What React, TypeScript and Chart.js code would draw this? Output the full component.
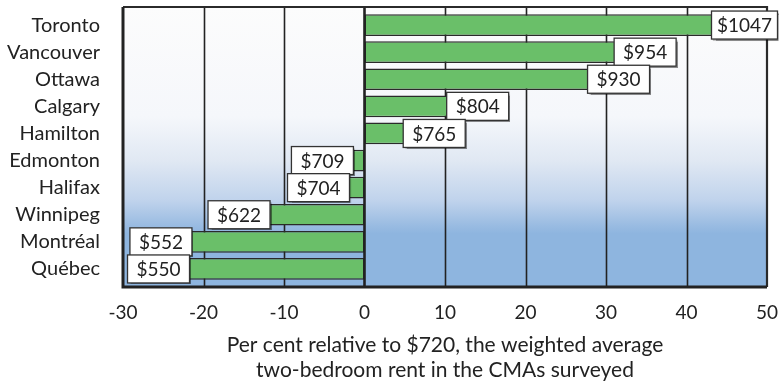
import React, { useEffect, useRef } from "react";
import { Chart, registerables } from "chart.js";

Chart.register(...registerables);

// Census metropolitan areas, top to bottom
const cities = [
  "Toronto",
  "Vancouver",
  "Ottawa",
  "Calgary",
  "Hamilton",
  "Edmonton",
  "Halifax",
  "Winnipeg",
  "Montréal",
  "Québec",
];

// Average two-bedroom rent ($)
const rents = [1047, 954, 930, 804, 765, 709, 704, 622, 552, 550];

// Per cent above/below the $720 weighted average
const pctDiff = [45.4, 32.5, 29.2, 11.7, 6.3, -1.5, -2.2, -13.6, -23.3, -23.6];

// Horizontal axis range and step
const xMin = -30;
const xMax = 50;
const xStep = 10;

const axisTitle = [
  "Per cent relative to $720, the weighted average",
  "two-bedroom rent in the CMAs surveyed",
];

const FONT = "Lato, 'Open Sans', sans-serif";
const INK = "#222222";
const FRAME_TOP_EXTRA = 4.5;
const FRAME_BOTTOM_EXTRA = 4.5;

const framePlugin = {
  id: "rentFrame",
  beforeDatasetsDraw(chart: any) {
    const { ctx, chartArea, scales } = chart;
    const top = chartArea.top - FRAME_TOP_EXTRA;
    const bottom = chartArea.bottom + FRAME_BOTTOM_EXTRA;
    const { left, right } = chartArea;
    ctx.save();
    const g = ctx.createLinearGradient(0, top, 0, bottom);
    g.addColorStop(0, "#fcfcfc");
    g.addColorStop(0.39, "#f5f7fb");
    g.addColorStop(0.55, "#e0e8f3");
    g.addColorStop(0.69, "#c0d3ec");
    g.addColorStop(0.786, "#97bae1");
    g.addColorStop(0.81, "#8eb5df");
    g.addColorStop(1, "#8eb5df");
    ctx.fillStyle = g;
    ctx.fillRect(left, top, right - left, bottom - top);

    // vertical grid lines at each tick
    const x = scales.x;
    ctx.strokeStyle = INK;
    for (const t of x.ticks) {
      if (t.value === xMin || t.value === xMax || t.value === 0) continue;
      const px = Math.round(x.getPixelForValue(t.value)) + 0.5;
      ctx.lineWidth = 1.6;
      ctx.beginPath();
      ctx.moveTo(px, top);
      ctx.lineTo(px, bottom);
      ctx.stroke();
    }
    ctx.restore();
  },
  afterDatasetsDraw(chart: any) {
    const { ctx, chartArea, scales } = chart;
    const top = chartArea.top - FRAME_TOP_EXTRA;
    const bottom = chartArea.bottom + FRAME_BOTTOM_EXTRA;
    const { left, right } = chartArea;
    const x = scales.x;
    const y = scales.y;
    ctx.save();

    // zero line
    const zx = x.getPixelForValue(0);
    ctx.strokeStyle = INK;
    ctx.lineWidth = 2.6;
    ctx.beginPath();
    ctx.moveTo(zx, top);
    ctx.lineTo(zx, bottom);
    ctx.stroke();

    // outer frame
    ctx.lineWidth = 2.2;
    ctx.strokeStyle = "#2a2a2a";
    ctx.beginPath();
    ctx.moveTo(left, top);
    ctx.lineTo(right, top);
    ctx.lineTo(right, bottom);
    ctx.stroke();
    ctx.lineWidth = 3;
    ctx.strokeStyle = INK;
    ctx.beginPath();
    ctx.moveTo(right, bottom);
    ctx.lineTo(left, bottom);
    ctx.lineTo(left, top);
    ctx.stroke();

    // rent callouts at the end of each bar
    const boxH = 28;
    ctx.font = `19px ${FONT}`;
    ctx.textAlign = "center";
    ctx.textBaseline = "middle";
    pctDiff.forEach((v, i) => {
      const text = `$${rents[i]}`;
      const boxW = Math.max(62, Math.ceil(ctx.measureText(text).width) + 10);
      const end = x.getPixelForValue(v);
      const len = Math.abs(end - zx);
      const cy = y.getPixelForValue(i);
      let bx: number;
      if (v >= 0) {
        const overlap = Math.max(1, Math.min(12, len - 15));
        bx = Math.min(end - overlap, chart.width - boxW - 1.5);
      } else {
        const overlap = Math.max(1, Math.min(15, len - 15));
        bx = end + overlap - boxW;
      }
      const by = cy - boxH / 2;
      ctx.save();
      ctx.shadowColor = "rgba(0,0,0,0.45)";
      ctx.shadowOffsetX = 1.5;
      ctx.shadowOffsetY = 1.5;
      ctx.shadowBlur = 1;
      ctx.fillStyle = "#ffffff";
      ctx.fillRect(bx, by, boxW, boxH);
      ctx.restore();
      ctx.lineWidth = 1.3;
      ctx.strokeStyle = "#333333";
      ctx.strokeRect(bx, by, boxW, boxH);
      ctx.fillStyle = INK;
      ctx.fillText(text, bx + boxW / 2, cy + 1);
    });
    ctx.restore();
  },
};

export default function App() {
  const canvasRef = useRef<HTMLCanvasElement>(null);

  useEffect(() => {
    const canvas = canvasRef.current;
    if (!canvas) return;
    const chart = new Chart(canvas, {
      type: "bar",
      data: {
        labels: cities,
        datasets: [
          {
            data: pctDiff,
            backgroundColor: "#6abf69",
            borderColor: "#2a2a2a",
            borderWidth: 1.5,
            borderSkipped: false,
            barPercentage: 0.8,
            categoryPercentage: 1,
          },
        ],
      },
      options: {
        indexAxis: "y",
        responsive: false,
        animation: false,
        devicePixelRatio: 1,
        layout: { padding: { top: 11.5, right: 12, left: 0, bottom: 0 } },
        plugins: {
          legend: { display: false },
          tooltip: { enabled: false },
        },
        scales: {
          x: {
            type: "linear",
            min: xMin,
            max: xMax,
            grid: { display: false, drawTicks: false },
            border: { display: false },
            ticks: {
              stepSize: xStep,
              padding: 19,
              color: INK,
              font: { family: FONT, size: 19 },
              callback: (v: any) => String(v),
            },
            title: {
              display: true,
              text: axisTitle,
              color: INK,
              font: { family: FONT, size: 21, lineHeight: "25px" },
              padding: { top: 0, bottom: 0.5 },
            },
            afterFit: (scale: any) => {
              scale.height = 100.5;
              scale.paddingLeft = 0;
              scale.paddingRight = 0;
            },
          },
          y: {
            grid: { display: false, drawTicks: false },
            border: { display: false },
            ticks: {
              padding: 23,
              color: INK,
              font: { family: FONT, size: 20 },
            },
            afterFit: (scale: any) => {
              scale.width = 123;
              scale.paddingTop = 0;
              scale.paddingBottom = 0;
            },
          },
        },
      },
      plugins: [framePlugin],
    });
    return () => chart.destroy();
  }, []);

  return (
    <div style={{ position: "absolute", left: 0, top: 0, width: 779, height: 383, background: "#ffffff" }}>
      <canvas ref={canvasRef} width={779} height={383} />
    </div>
  );
}
